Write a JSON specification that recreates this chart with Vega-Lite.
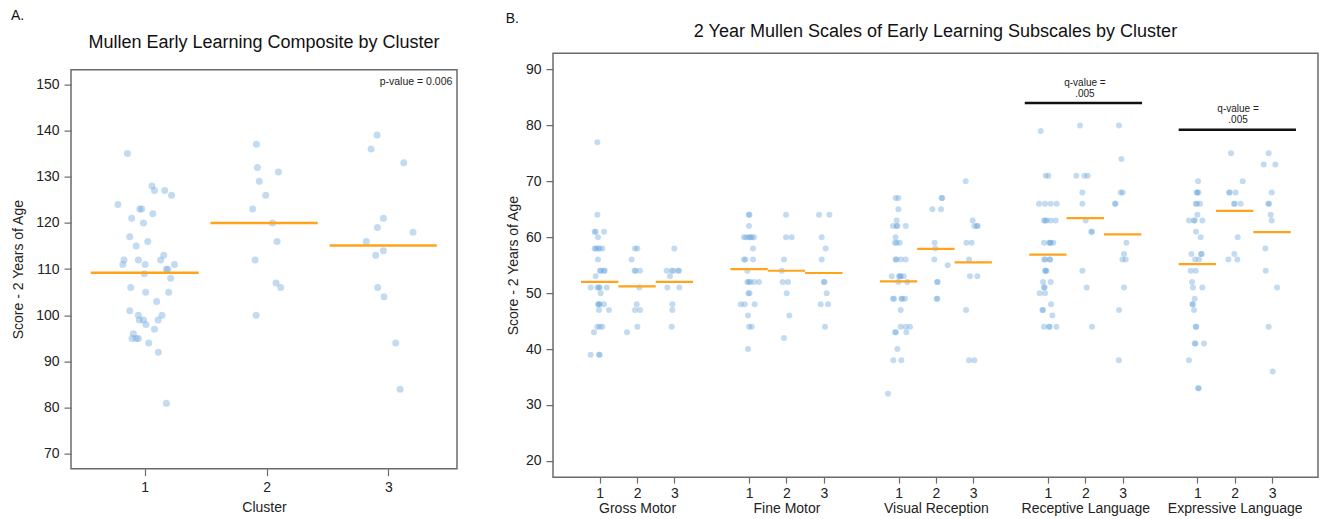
{
  "$schema": "https://vega.github.io/schema/vega-lite/v6.json",
  "background": "white",
  "padding": {"left": 10, "top": 8, "right": 5, "bottom": 4},
  "spacing": 47,
  "center": true,
  "config": {
    "font": "Liberation Sans",
    "view": {"stroke": "#6b6b6b", "strokeWidth": 1.5},
    "axis": {"grid": false, "domain": false, "tickColor": "#6b6b6b", "tickSize": 7, "tickWidth": 1.2, "labelFontSize": 14, "labelColor": "#222222", "titleFontSize": 14, "titleFontWeight": "normal", "titleColor": "#222222", "labelPadding": 5},
    "title": {"fontWeight": "normal", "color": "#111111"}
  },
  "hconcat": [
    {
      "title": {"text": "A.", "anchor": "start", "fontSize": 14, "offset": 10},
      "vconcat": [
        {
          "width": 386,
          "height": 399,
          "title": {"text": "Mullen Early Learning Composite by Cluster", "fontSize": 18, "offset": 18},
          "encoding": {
            "x": {"field": "x", "type": "quantitative", "scale": {"domain": [0.395, 3.563], "nice": false, "zero": false}, "axis": {"values": [1, 2, 3], "title": "Cluster", "labelFlush": false, "labelOverlap": false, "titlePadding": 6}},
            "y": {"field": "value", "type": "quantitative", "scale": {"domain": [66.83, 153.17], "nice": false, "zero": false}, "axis": {"values": [70, 80, 90, 100, 110, 120, 130, 140, 150], "title": "Score - 2 Years of Age", "labelFlush": false, "titlePadding": 10}}
          },
          "layer": [
            {
              "data": {"values": [
                {"x": 0.858, "value": 135}, {"x": 0.78, "value": 124}, {"x": 1.06, "value": 128}, {"x": 1.08, "value": 127}, {"x": 1.164, "value": 127}, {"x": 1.22, "value": 126}, {"x": 0.96, "value": 123}, {"x": 0.975, "value": 123}, {"x": 1.066, "value": 122}, {"x": 0.893, "value": 121}, {"x": 0.99, "value": 120}, {"x": 0.877, "value": 117}, {"x": 1.025, "value": 116}, {"x": 0.93, "value": 115}, {"x": 1.156, "value": 113}, {"x": 0.83, "value": 112}, {"x": 0.948, "value": 112}, {"x": 1.13, "value": 112}, {"x": 0.82, "value": 111}, {"x": 1.003, "value": 111}, {"x": 1.244, "value": 111}, {"x": 1.178, "value": 110}, {"x": 1.19, "value": 110}, {"x": 0.997, "value": 109}, {"x": 1.213, "value": 108}, {"x": 0.885, "value": 106}, {"x": 1.008, "value": 105}, {"x": 1.197, "value": 105}, {"x": 1.098, "value": 103}, {"x": 0.877, "value": 101}, {"x": 0.948, "value": 100}, {"x": 1.142, "value": 100}, {"x": 0.956, "value": 99}, {"x": 0.99, "value": 99}, {"x": 1.11, "value": 99}, {"x": 1.01, "value": 98}, {"x": 1.08, "value": 97}, {"x": 0.907, "value": 96}, {"x": 0.896, "value": 95}, {"x": 0.93, "value": 95}, {"x": 0.948, "value": 95}, {"x": 1.033, "value": 94}, {"x": 1.112, "value": 92}, {"x": 1.178, "value": 81},
                {"x": 1.917, "value": 137}, {"x": 1.925, "value": 132}, {"x": 2.097, "value": 131}, {"x": 1.94, "value": 129}, {"x": 1.993, "value": 126}, {"x": 1.886, "value": 123}, {"x": 2.048, "value": 120}, {"x": 2.086, "value": 116}, {"x": 1.906, "value": 112}, {"x": 2.078, "value": 107}, {"x": 2.116, "value": 106}, {"x": 1.914, "value": 100},
                {"x": 2.907, "value": 139}, {"x": 2.858, "value": 136}, {"x": 3.126, "value": 133}, {"x": 2.959, "value": 121}, {"x": 2.91, "value": 119}, {"x": 3.202, "value": 118}, {"x": 2.819, "value": 116}, {"x": 2.959, "value": 114}, {"x": 2.896, "value": 113}, {"x": 2.912, "value": 106}, {"x": 2.964, "value": 104}, {"x": 3.06, "value": 94}, {"x": 3.096, "value": 84}
              ]},
              "mark": {"type": "circle", "size": 49, "color": "#6aa6db", "opacity": 0.4}
            },
            {
              "data": {"values": [
                {"x": 0.557, "x2": 1.443, "value": 109.2},
                {"x": 1.54, "x2": 2.42, "value": 120},
                {"x": 2.518, "x2": 3.397, "value": 115.1}
              ]},
              "mark": {"type": "rule", "color": "#ffa31a", "strokeWidth": 2.5},
              "encoding": {"x2": {"field": "x2"}}
            },
            {
              "data": {"values": [{"x": 3.525, "value": 150.6, "label": "p-value = 0.006"}]},
              "mark": {"type": "text", "align": "right", "baseline": "middle", "fontSize": 10.5, "color": "#222222"},
              "encoding": {"text": {"field": "label"}}
            }
          ]
        }
      ]
    },
    {
      "title": {"text": "B.", "anchor": "start", "fontSize": 14, "offset": -4},
      "vconcat": [
        {
          "width": 765,
          "height": 424,
          "title": {"text": "2 Year Mullen Scales of Early Learning Subscales by Cluster", "fontSize": 18, "offset": 12},
          "encoding": {
            "x": {"field": "x", "type": "quantitative", "scale": {"domain": [-0.25, 20.23], "nice": false, "zero": false}, "axis": {"values": [1, 2, 3, 5, 6, 7, 9, 10, 11, 13, 14, 15, 17, 18, 19], "title": " ", "titleFontSize": 6, "titlePadding": 10, "labelFlush": false, "labelOverlap": false, "tickSize": 6, "labelPadding": 3, "labelLineHeight": 15, "labelExpr": "datum.value == 2 ? ['2', 'Gross Motor'] : datum.value == 6 ? ['2', 'Fine Motor'] : datum.value == 10 ? ['2', 'Visual Reception'] : datum.value == 14 ? ['2', 'Receptive Language'] : datum.value == 18 ? ['2', 'Expressive Language'] : '' + ((datum.value - 1) % 4 + 1)"}},
            "y": {"field": "value", "type": "quantitative", "scale": {"domain": [17.1, 92.92], "nice": false, "zero": false}, "axis": {"values": [20, 30, 40, 50, 60, 70, 80, 90], "title": "Score - 2 Years of Age", "labelFlush": false, "titlePadding": 5}}
          },
          "layer": [
            {
              "data": {"values": [
                {"x": 0.937, "value": 77}, {"x": 0.937, "value": 64}, {"x": 0.865, "value": 61}, {"x": 0.892, "value": 61}, {"x": 1.115, "value": 61}, {"x": 0.955, "value": 60}, {"x": 0.865, "value": 58}, {"x": 0.9, "value": 58}, {"x": 0.955, "value": 58}, {"x": 1.0, "value": 58}, {"x": 1.071, "value": 58}, {"x": 0.955, "value": 56}, {"x": 1.008, "value": 54}, {"x": 1.03, "value": 54}, {"x": 1.115, "value": 54}, {"x": 1.133, "value": 54}, {"x": 0.892, "value": 53}, {"x": 0.758, "value": 51}, {"x": 0.937, "value": 51}, {"x": 0.981, "value": 51}, {"x": 1.0, "value": 51}, {"x": 1.187, "value": 51}, {"x": 1.026, "value": 50}, {"x": 0.955, "value": 48}, {"x": 0.981, "value": 48}, {"x": 1.115, "value": 48}, {"x": 1.0, "value": 48}, {"x": 0.981, "value": 47}, {"x": 1.249, "value": 47}, {"x": 0.937, "value": 44}, {"x": 1.0, "value": 44}, {"x": 1.071, "value": 44}, {"x": 0.847, "value": 43}, {"x": 0.758, "value": 39}, {"x": 0.981, "value": 39}, {"x": 1.0, "value": 39},
                {"x": 1.945, "value": 58}, {"x": 2.008, "value": 58}, {"x": 1.856, "value": 56}, {"x": 1.936, "value": 54}, {"x": 1.96, "value": 54}, {"x": 2.079, "value": 54}, {"x": 2.061, "value": 51}, {"x": 1.99, "value": 48}, {"x": 1.945, "value": 47}, {"x": 2.079, "value": 47}, {"x": 2.008, "value": 44}, {"x": 1.731, "value": 43},
                {"x": 2.998, "value": 58}, {"x": 2.793, "value": 54}, {"x": 2.93, "value": 54}, {"x": 2.972, "value": 54}, {"x": 3.1, "value": 54}, {"x": 3.123, "value": 54}, {"x": 2.882, "value": 53}, {"x": 2.811, "value": 51}, {"x": 3.132, "value": 51}, {"x": 2.945, "value": 48}, {"x": 2.945, "value": 47}, {"x": 2.927, "value": 44},
                {"x": 4.99, "value": 64}, {"x": 5.01, "value": 64}, {"x": 4.997, "value": 62}, {"x": 4.864, "value": 60}, {"x": 4.92, "value": 60}, {"x": 4.997, "value": 60}, {"x": 5.03, "value": 60}, {"x": 5.07, "value": 60}, {"x": 5.131, "value": 60}, {"x": 5.104, "value": 58}, {"x": 4.864, "value": 56}, {"x": 4.9, "value": 56}, {"x": 5.104, "value": 56}, {"x": 4.953, "value": 54}, {"x": 4.953, "value": 52}, {"x": 4.99, "value": 52}, {"x": 5.03, "value": 52}, {"x": 5.131, "value": 52}, {"x": 5.265, "value": 52}, {"x": 4.98, "value": 50}, {"x": 5.01, "value": 50}, {"x": 4.774, "value": 48}, {"x": 4.881, "value": 48}, {"x": 5.149, "value": 48}, {"x": 4.971, "value": 46}, {"x": 4.997, "value": 44}, {"x": 5.069, "value": 44}, {"x": 4.971, "value": 40},
                {"x": 5.988, "value": 64}, {"x": 5.988, "value": 60}, {"x": 6.14, "value": 60}, {"x": 5.934, "value": 56}, {"x": 5.872, "value": 54}, {"x": 5.899, "value": 52}, {"x": 6.042, "value": 52}, {"x": 6.006, "value": 50}, {"x": 6.077, "value": 46}, {"x": 5.934, "value": 42},
                {"x": 6.872, "value": 64}, {"x": 7.148, "value": 64}, {"x": 6.943, "value": 60}, {"x": 7.05, "value": 58}, {"x": 6.943, "value": 56}, {"x": 7.0, "value": 52}, {"x": 7.02, "value": 52}, {"x": 7.077, "value": 50}, {"x": 6.916, "value": 48}, {"x": 7.113, "value": 48}, {"x": 7.032, "value": 44},
                {"x": 8.924, "value": 67}, {"x": 8.995, "value": 67}, {"x": 8.995, "value": 65}, {"x": 8.951, "value": 63}, {"x": 8.853, "value": 62}, {"x": 8.95, "value": 62}, {"x": 8.969, "value": 62}, {"x": 9.192, "value": 62}, {"x": 8.924, "value": 60}, {"x": 8.906, "value": 59}, {"x": 8.95, "value": 59}, {"x": 9.031, "value": 59}, {"x": 8.924, "value": 56}, {"x": 8.94, "value": 56}, {"x": 9.058, "value": 56}, {"x": 9.192, "value": 56}, {"x": 8.817, "value": 53}, {"x": 9.013, "value": 53}, {"x": 9.04, "value": 53}, {"x": 9.06, "value": 53}, {"x": 9.138, "value": 53}, {"x": 8.995, "value": 52}, {"x": 9.236, "value": 52}, {"x": 8.853, "value": 49}, {"x": 8.88, "value": 49}, {"x": 9.076, "value": 49}, {"x": 9.1, "value": 49}, {"x": 9.174, "value": 49}, {"x": 9.058, "value": 47}, {"x": 9.058, "value": 44}, {"x": 9.192, "value": 44}, {"x": 9.308, "value": 44}, {"x": 8.906, "value": 43}, {"x": 8.93, "value": 43}, {"x": 9.21, "value": 43}, {"x": 8.969, "value": 40}, {"x": 8.862, "value": 38}, {"x": 9.076, "value": 38}, {"x": 8.719, "value": 32},
                {"x": 10.173, "value": 67}, {"x": 10.15, "value": 67}, {"x": 9.906, "value": 65}, {"x": 10.138, "value": 65}, {"x": 9.968, "value": 59}, {"x": 9.986, "value": 58}, {"x": 9.959, "value": 56}, {"x": 10.316, "value": 55}, {"x": 10.048, "value": 52}, {"x": 10.03, "value": 52}, {"x": 10.022, "value": 49}, {"x": 10.04, "value": 49},
                {"x": 10.798, "value": 70}, {"x": 10.986, "value": 63}, {"x": 11.03, "value": 62}, {"x": 11.12, "value": 62}, {"x": 11.1, "value": 62}, {"x": 10.816, "value": 59}, {"x": 10.959, "value": 59}, {"x": 10.887, "value": 56}, {"x": 10.914, "value": 53}, {"x": 11.11, "value": 53}, {"x": 10.807, "value": 47}, {"x": 10.887, "value": 38}, {"x": 11.03, "value": 38},
                {"x": 12.806, "value": 79}, {"x": 12.94, "value": 71}, {"x": 13.011, "value": 71}, {"x": 12.761, "value": 66}, {"x": 12.922, "value": 66}, {"x": 13.074, "value": 66}, {"x": 13.235, "value": 66}, {"x": 12.895, "value": 63}, {"x": 12.93, "value": 63}, {"x": 12.96, "value": 63}, {"x": 13.074, "value": 63}, {"x": 13.208, "value": 63}, {"x": 12.895, "value": 59}, {"x": 13.03, "value": 59}, {"x": 13.06, "value": 59}, {"x": 13.074, "value": 59}, {"x": 13.145, "value": 59}, {"x": 12.895, "value": 56}, {"x": 12.93, "value": 56}, {"x": 13.047, "value": 56}, {"x": 13.06, "value": 56}, {"x": 12.922, "value": 54}, {"x": 12.94, "value": 54}, {"x": 12.96, "value": 54}, {"x": 12.869, "value": 52}, {"x": 13.074, "value": 52}, {"x": 12.895, "value": 51}, {"x": 12.91, "value": 51}, {"x": 12.779, "value": 50}, {"x": 12.922, "value": 50}, {"x": 13.083, "value": 48}, {"x": 12.851, "value": 47}, {"x": 12.87, "value": 47}, {"x": 13.118, "value": 46}, {"x": 12.895, "value": 44}, {"x": 13.03, "value": 44}, {"x": 13.047, "value": 44}, {"x": 13.226, "value": 44},
                {"x": 13.859, "value": 80}, {"x": 13.761, "value": 71}, {"x": 13.975, "value": 71}, {"x": 14.064, "value": 71}, {"x": 13.922, "value": 68}, {"x": 13.922, "value": 66}, {"x": 14.011, "value": 63}, {"x": 14.18, "value": 61}, {"x": 14.16, "value": 61}, {"x": 13.922, "value": 54}, {"x": 14.038, "value": 51}, {"x": 14.18, "value": 44},
                {"x": 14.903, "value": 80}, {"x": 14.966, "value": 74}, {"x": 14.948, "value": 68}, {"x": 15.002, "value": 68}, {"x": 14.796, "value": 66}, {"x": 14.81, "value": 66}, {"x": 15.1, "value": 59}, {"x": 15.037, "value": 57}, {"x": 14.993, "value": 56}, {"x": 15.082, "value": 56}, {"x": 15.037, "value": 51}, {"x": 14.903, "value": 47}, {"x": 14.9, "value": 38},
                {"x": 17.018, "value": 70}, {"x": 16.983, "value": 68}, {"x": 17.0, "value": 68}, {"x": 17.027, "value": 68}, {"x": 16.956, "value": 66}, {"x": 16.99, "value": 66}, {"x": 17.072, "value": 66}, {"x": 17.0, "value": 64}, {"x": 16.777, "value": 63}, {"x": 16.911, "value": 63}, {"x": 16.93, "value": 63}, {"x": 17.134, "value": 63}, {"x": 16.965, "value": 61}, {"x": 17.09, "value": 60}, {"x": 16.84, "value": 57}, {"x": 17.116, "value": 57}, {"x": 17.1, "value": 57}, {"x": 16.938, "value": 56}, {"x": 17.045, "value": 56}, {"x": 16.822, "value": 54}, {"x": 16.956, "value": 54}, {"x": 16.858, "value": 52}, {"x": 16.884, "value": 51}, {"x": 17.134, "value": 51}, {"x": 16.929, "value": 49}, {"x": 16.867, "value": 48}, {"x": 16.88, "value": 48}, {"x": 16.911, "value": 47}, {"x": 16.956, "value": 44}, {"x": 16.97, "value": 44}, {"x": 16.929, "value": 41}, {"x": 16.95, "value": 41}, {"x": 17.179, "value": 41}, {"x": 16.777, "value": 38}, {"x": 17.02, "value": 33}, {"x": 17.04, "value": 33},
                {"x": 17.902, "value": 75}, {"x": 18.214, "value": 70}, {"x": 17.848, "value": 68}, {"x": 17.87, "value": 68}, {"x": 18.027, "value": 68}, {"x": 17.982, "value": 66}, {"x": 18.0, "value": 66}, {"x": 18.161, "value": 66}, {"x": 18.08, "value": 60}, {"x": 17.991, "value": 57}, {"x": 17.83, "value": 56}, {"x": 18.071, "value": 56},
                {"x": 18.91, "value": 75}, {"x": 18.776, "value": 73}, {"x": 19.089, "value": 73}, {"x": 18.991, "value": 68}, {"x": 18.901, "value": 66}, {"x": 18.92, "value": 66}, {"x": 18.964, "value": 64}, {"x": 18.991, "value": 63}, {"x": 18.821, "value": 58}, {"x": 18.83, "value": 54}, {"x": 19.134, "value": 51}, {"x": 18.91, "value": 44}, {"x": 19.017, "value": 36}
              ]},
              "mark": {"type": "circle", "size": 36, "color": "#6aa6db", "opacity": 0.4}
            },
            {
              "data": {"values": [
                {"x": 0.5, "x2": 1.5, "value": 52.0}, {"x": 1.5, "x2": 2.5, "value": 51.2}, {"x": 2.5, "x2": 3.5, "value": 52.0},
                {"x": 4.5, "x2": 5.5, "value": 54.3}, {"x": 5.5, "x2": 6.5, "value": 54.0}, {"x": 6.5, "x2": 7.5, "value": 53.6},
                {"x": 8.5, "x2": 9.5, "value": 52.1}, {"x": 9.5, "x2": 10.5, "value": 57.9}, {"x": 10.5, "x2": 11.5, "value": 55.5},
                {"x": 12.5, "x2": 13.5, "value": 56.9}, {"x": 13.5, "x2": 14.5, "value": 63.4}, {"x": 14.5, "x2": 15.5, "value": 60.5},
                {"x": 16.5, "x2": 17.5, "value": 55.2}, {"x": 17.5, "x2": 18.5, "value": 64.7}, {"x": 18.5, "x2": 19.5, "value": 60.9}
              ]},
              "mark": {"type": "rule", "color": "#ffa31a", "strokeWidth": 2.2},
              "encoding": {"x2": {"field": "x2"}}
            },
            {
              "data": {"values": [
                {"x": 12.38, "x2": 15.52, "value": 84.0},
                {"x": 16.5, "x2": 19.64, "value": 79.2}
              ]},
              "mark": {"type": "rule", "color": "#111111", "strokeWidth": 2.5},
              "encoding": {"x2": {"field": "x2"}}
            },
            {
              "data": {"values": [
                {"x": 13.99, "value": 84.0, "label": "q-value =\n.005"},
                {"x": 18.09, "value": 79.2, "label": "q-value =\n.005"}
              ]},
              "mark": {"type": "text", "align": "center", "baseline": "bottom", "fontSize": 10, "lineHeight": 11, "lineBreak": "\n", "dy": -15.5, "color": "#222222"},
              "encoding": {"text": {"field": "label"}}
            }
          ]
        }
      ]
    }
  ]
}
